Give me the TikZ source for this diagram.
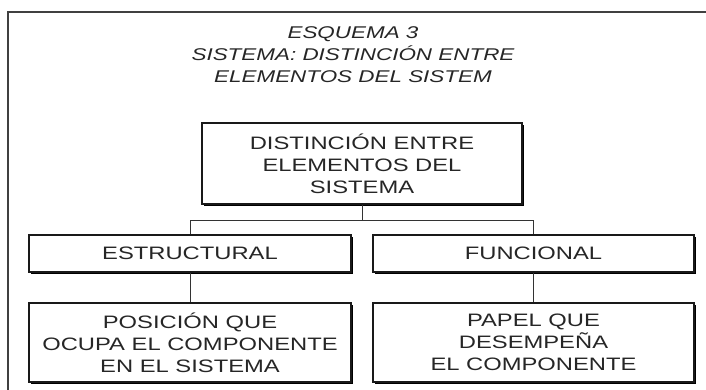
\documentclass[tikz,border=0pt]{standalone}
\usepackage{fontspec}
\setmainfont{Liberation Sans}[FakeStretch=1.32]
\usetikzlibrary{positioning,shadows}
\tikzset{
  box/.style={rectangle, fill=white, draw=black!90, line width=1.2pt, align=center, inner sep=0pt,
    text=black!85, font=\fontsize{18}{22}\selectfont,
    drop shadow={shadow xshift=1.6pt, shadow yshift=-1.6pt, fill=black, opacity=1}},
  link/.style={draw=black!80, line width=0.8pt},
  frame/.style={draw=black!75, line width=1.3pt}
}

\begin{document}
\begin{tikzpicture}[x=1pt, y=-1pt]
  \useasboundingbox (0,0) rectangle (706,390);

  \draw[frame] (8,390) -- (8,12) -- (706,12);

  \node (title) at (353,55) [align=center, text=black!85, font=\fontsize{17}{22}\selectfont\itshape]
    {ESQUEMA 3\\SISTEMA: DISTINCIÓN ENTRE\\ELEMENTOS DEL SISTEM};

  \node[box, minimum width=320, minimum height=81] (dist) at (362,163.5)
    {DISTINCIÓN ENTRE\\ELEMENTOS DEL\\SISTEMA};
  \node[box, minimum width=322, minimum height=37] (estr) at (190,253.5) {ESTRUCTURAL};
  \node[box, minimum width=321, minimum height=37] (func) at (533.5,253.5) {FUNCIONAL};
  \node[box, minimum width=322, minimum height=79] (pos) at (190,342.5)
    {POSICIÓN QUE\\OCUPA EL COMPONENTE\\EN EL SISTEMA};
  \node[box, minimum width=321, minimum height=79] (pap) at (533.5,342.5)
    {PAPEL QUE\\DESEMPEÑA\\EL COMPONENTE};

  \coordinate (fork) at (362,220);
  \draw[link] (dist) -- (fork);
  \draw[link] (fork) -| (estr);
  \draw[link] (fork) -| (func);
  \draw[link] (estr) -- (pos);
  \draw[link] (func) -- (pap);
\end{tikzpicture}
\end{document}
